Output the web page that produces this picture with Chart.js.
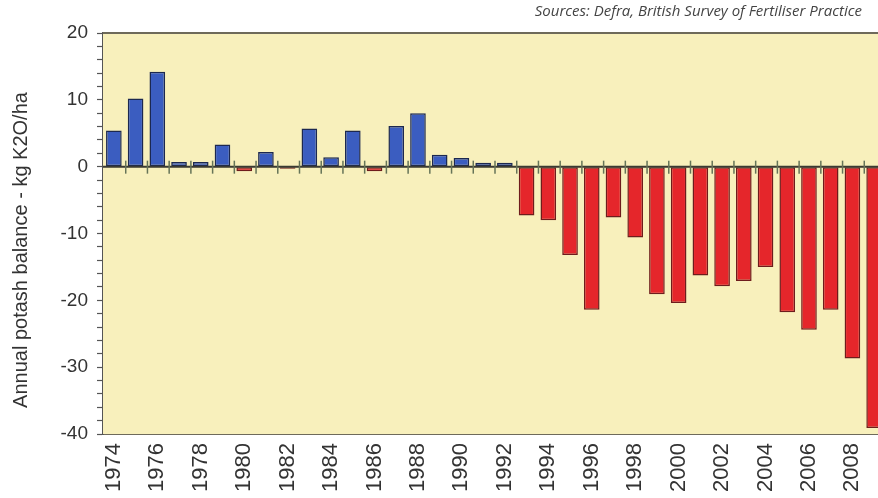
<!DOCTYPE html>
<html lang="en">
<head>
  <meta charset="UTF-8" />
  <title>Annual potash balance</title>
  <script src="https://cdn.jsdelivr.net/npm/chart.js"></script>
  <style>
    html, body { margin: 0; padding: 0; background: #fff; overflow: hidden; }
    #wrap { width: 885px; height: 498px; position: relative; }
  </style>
</head>
<body>
  <div id="wrap"><canvas id="potash"></canvas></div>

  <script>
    // Data (kg K2O/ha)
    const years = [
      '1974', '1975', '1976', '1977', '1978', '1979', '1980', '1981', '1982',
      '1983', '1984', '1985', '1986', '1987', '1988', '1989', '1990', '1991',
      '1992', '1993', '1994', '1995', '1996', '1997', '1998', '1999', '2000',
      '2001', '2002', '2003', '2004', '2005', '2006', '2007', '2008', '2009'
    ];
    const balance = [
      5.4, 10.2, 14.2, 0.7, 0.7, 3.3, -0.7, 2.2, -0.3,
      5.7, 1.4, 5.4, -0.7, 6.1, 8.0, 1.8, 1.3, 0.6,
      0.6, -7.3, -8.0, -13.2, -21.4, -7.6, -10.6, -19.1, -20.4,
      -16.3, -17.9, -17.1, -15.0, -21.8, -24.4, -21.4, -28.7, -39.1
    ];
    const yTicks = [-40, -30, -20, -10, 0, 10, 20];

    const yTitle = 'Annual potash balance - kg K2O/ha';
    const source = 'Sources: Defra, British Survey of Fertiliser Practice';

    // extra drawing: plot border on top, small ticks on the zero line, texts
    const decor = {
      id: 'decor',
      beforeDatasetsDraw(chart) {
        const { ctx, chartArea } = chart;
        ctx.save();
        ctx.fillStyle = '#f8f0bc';
        ctx.fillRect(chartArea.left, chartArea.top, chartArea.right - chartArea.left, chartArea.bottom - chartArea.top);
        ctx.restore();
      },
      afterDatasetsDraw(chart) {
        const { ctx, chartArea, scales } = chart;
        const x = scales.x, y = scales.y;
        const y0 = y.getPixelForValue(0);
        ctx.save();
        // zero line
        ctx.strokeStyle = '#3a3a32';
        ctx.lineWidth = 2;
        ctx.beginPath();
        ctx.moveTo(chartArea.left, y0);
        ctx.lineTo(chartArea.right, y0);
        ctx.stroke();
        // category ticks on the zero line
        ctx.strokeStyle = '#667458';
        ctx.lineWidth = 1.5;
        for (let i = 0; i < years.length - 1; i++) {
          const xm = (x.getPixelForValue(i) + x.getPixelForValue(i + 1)) / 2 + 1;
          ctx.beginPath();
          ctx.moveTo(xm, y0 - 6);
          ctx.lineTo(xm, y0 + 7);
          ctx.stroke();
        }
        // top border
        ctx.strokeStyle = '#6e6a5a';
        ctx.lineWidth = 2;
        ctx.beginPath();
        ctx.moveTo(chartArea.left, chartArea.top);
        ctx.lineTo(chartArea.right, chartArea.top);
        ctx.stroke();
        ctx.restore();
      },
      afterDraw(chart) {
        const { ctx } = chart;
        ctx.save();
        ctx.fillStyle = '#333';
        ctx.font = '20px "Liberation Sans", Arial, sans-serif';
        ctx.textAlign = 'center';
        ctx.textBaseline = 'middle';
        ctx.translate(21, 250);
        ctx.rotate(-Math.PI / 2);
        ctx.fillText(yTitle, 0, 0);
        ctx.restore();

        ctx.save();
        ctx.fillStyle = '#444';
        ctx.font = 'italic 15px "Open Sans", sans-serif';
        ctx.textAlign = 'right';
        ctx.textBaseline = 'middle';
        ctx.fillText(source, 862, 12);
        ctx.restore();
      }
    };

    new Chart(document.getElementById('potash'), {
      type: 'bar',
      data: {
        labels: years,
        datasets: [{
          data: balance,
          backgroundColor: ctx => ctx.raw < 0 ? '#e5262b' : '#3b5dc0',
          borderColor: ctx => ctx.raw < 0 ? '#6e1c1c' : '#1c2850',
          borderWidth: 1.5,
          borderSkipped: false,
          barPercentage: 0.72,
          categoryPercentage: 1
        }]
      },
      options: {
        responsive: true,
        maintainAspectRatio: false,
        animation: false,
        layout: { padding: { top: 33, right: 0, left: 0, bottom: 0 } },
        plugins: { legend: { display: false }, tooltip: { enabled: false } },
        scales: {
          x: {
            afterFit: s => { s.height = 64; s.paddingLeft = 0; s.paddingRight = 0; },
            grid: { display: false, drawTicks: false },
            border: { display: true, color: '#6e6a5a', width: 2 },
            ticks: {
              autoSkip: false,
              minRotation: 90,
              maxRotation: 90,
              padding: 9,
              color: '#333',
              font: { family: '"Liberation Sans", Arial, sans-serif', size: 22 },
              callback: (v, i) => i % 2 === 0 ? years[i] : ''
            }
          },
          y: {
            min: -40,
            max: 20,
            afterFit: s => { s.width = 103; s.paddingTop = 0; s.paddingBottom = 0; },
            grid: {
              drawOnChartArea: false,
              tickLength: 6,
              tickColor: '#555',
              tickWidth: 1.2
            },
            border: { display: true, color: '#555', width: 2 },
            ticks: {
              stepSize: 2,
              autoSkip: false,
              padding: 9,
              color: '#333',
              font: { family: '"Liberation Sans", Arial, sans-serif', size: 19 },
              callback: v => yTicks.includes(v) ? String(v) : ''
            }
          }
        }
      },
      plugins: [decor]
    });
  </script>
</body>
</html>
